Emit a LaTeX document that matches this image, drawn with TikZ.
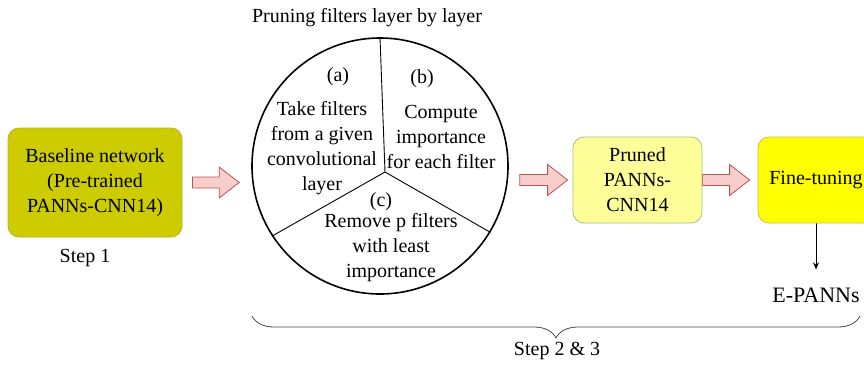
\documentclass[tikz,border=0pt]{standalone}
\usepackage{fontspec}
\setmainfont{Liberation Serif}
\usepackage{tikz}
\usetikzlibrary{calc}
\usetikzlibrary{arrows.meta}
\usetikzlibrary{decorations.pathreplacing}
\pgfdeclarelayer{edgelayer}
\pgfdeclarelayer{nodelayer}
\pgfsetlayers{edgelayer,nodelayer,main}
\definecolor{oliveyellow}{RGB}{204,204,0}
\definecolor{oliveline}{RGB}{185,180,40}
\definecolor{paleyellow}{RGB}{255,255,153}
\definecolor{paleline}{RGB}{160,195,130}
\definecolor{fineyellow}{RGB}{255,255,0}
\definecolor{fineline}{RGB}{214,182,86}
\definecolor{arrowpink}{RGB}{248,206,204}
\definecolor{arrowred}{RGB}{184,84,80}
\definecolor{bracegray}{RGB}{70,70,70}
\tikzstyle{none}=[inner sep=0pt]
\tikzstyle{txt}=[font=\fontsize{20}{25}\selectfont, align=center, inner sep=0pt]
\tikzstyle{box}=[txt, rounded corners=11pt, draw, line width=0.8pt]
\tikzstyle{block}=[draw=arrowred, fill=arrowpink, line width=0.8pt, to path={let \p1=(\tikztostart), \p2=(\tikztotarget) in (\x1,\y1+5.5pt) -- (\x2-20pt,\y1+5.5pt) -- (\x2-20pt,\y1+15.5pt) -- (\x2,\y1) -- (\x2-20pt,\y1-15.5pt) -- (\x2-20pt,\y1-5.5pt) -- (\x1,\y1-5.5pt) -- cycle}]

\begin{document}
\begin{tikzpicture}[x=1pt,y=-1pt]
	\useasboundingbox (0,0) rectangle (864,367);
	\begin{pgfonlayer}{nodelayer}
		\node [style=txt] (0) at (367,18) {Pruning filters layer by layer};
		\node [style=box, fill=oliveyellow, draw=oliveline, minimum width=174pt, minimum height=109pt] (1) at (95,182.5) {Baseline network\\(Pre-trained\\PANNs-CNN14)};
		\node [style=txt] (2) at (85,258) {Step 1};
		\node [style=none, circle, draw, line width=1.6pt, minimum size=256pt] (3) at (380,166) {};
		\coordinate (4) at (385,172);
		\node [style=txt] (5) at (338,77) {(a)};
		\node [style=txt] (6) at (422,79) {(b)};
		\node [style=txt] (7) at (322,148) {Take filters\\from a given\\convolutional\\layer};
		\node [style=txt] (8) at (441,137) {Compute\\importance\\for each filter};
		\node [style=txt] (9) at (381,202) {(c)};
		\node [style=txt] (10) at (391,248) {Remove p filters\\with least\\importance};
		\node [style=box, fill=paleyellow, draw=paleline, minimum width=129pt, minimum height=86pt] (11) at (637.5,180) {Pruned\\PANNs-\\CNN14};
		\node [style=box, fill=fineyellow, draw=fineline, minimum width=116pt, minimum height=86pt] (12) at (816,180) {Fine-tuning};
		\node [style=txt, font=\fontsize{22}{26}\selectfont] (13) at (816,295) {E-PANNs};
		\coordinate (14) at (252,316);
		\coordinate (15) at (860,316);
		\node [style=txt] (16) at (557,351) {Step 2 \& 3};
	\end{pgfonlayer}
	\begin{pgfonlayer}{edgelayer}
		\draw [line width=0.9pt](4) to (3.90);
		\draw [line width=0.9pt](4) to (3.213);
		\draw [line width=0.9pt](4) to (3.329);
		\draw [style=block]($(1.east)+(10,0)$) to ($(3.west)+(-12,0)$);
		\draw [style=block]($(3.east |- 11.west)+(11,0)$) to ($(11.west)+(-5,0)$);
		\draw [style=block](11.east) to ($(12.west)+(-8,0)$);
		\draw [-{Stealth[length=7pt,width=6pt]}, line width=0.8pt, shorten >=18pt](12.south) to (13.north);
		\draw [decorate, decoration={brace, mirror, amplitude=22pt}, draw=bracegray, line width=0.8pt](14) -- (15);
	\end{pgfonlayer}
\end{tikzpicture}
\end{document}
